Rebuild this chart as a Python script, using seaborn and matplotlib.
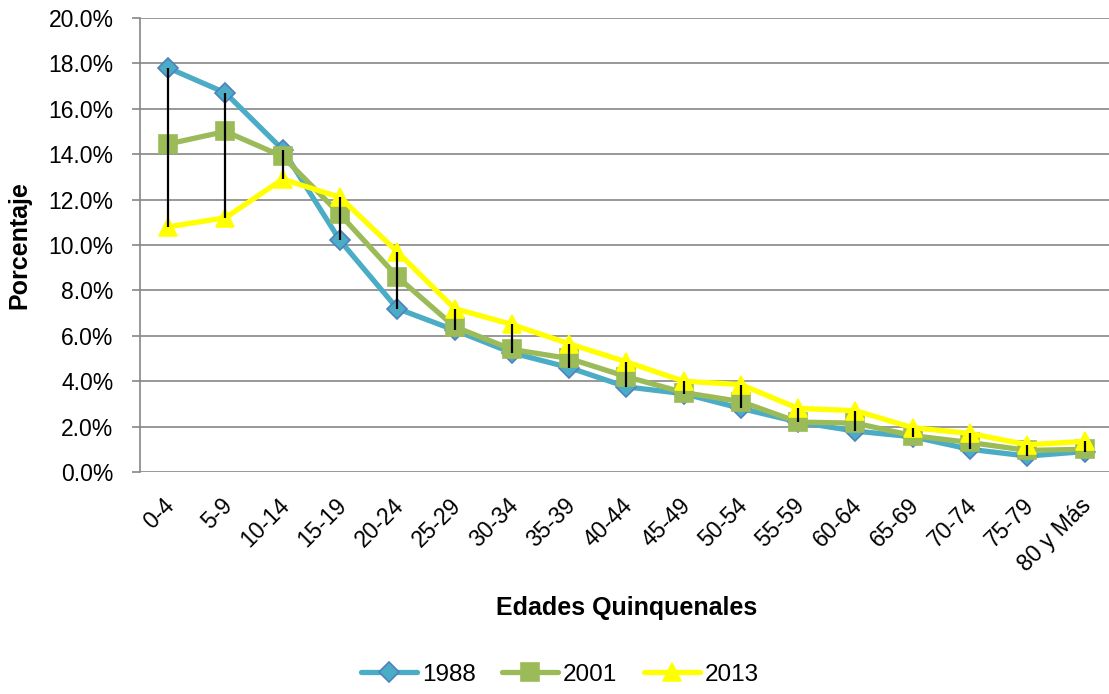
import numpy as np
import pandas as pd
import seaborn as sns
import matplotlib.pyplot as plt
from matplotlib.ticker import PercentFormatter
from matplotlib.transforms import ScaledTranslation

sns.set_style("white")
plt.rcParams['font.family'] = ['Liberation Sans', 'DejaVu Sans']
plt.rcParams['text.color'] = 'black'
plt.rcParams['axes.labelcolor'] = 'black'

# age groups and percentage of population per census
edades = ["0-4", "5-9", "10-14", "15-19", "20-24", "25-29", "30-34", "35-39",
          "40-44", "45-49", "50-54", "55-59", "60-64", "65-69", "70-74", "75-79",
          "80 y Más"]
p1988 = [17.8, 16.7, 14.2, 10.2, 7.2, 6.25, 5.25, 4.6, 3.75, 3.45, 2.8, 2.2,
         1.8, 1.55, 1.0, 0.7, 0.9]
p2001 = [14.45, 15.0, 13.9, 11.35, 8.6, 6.4, 5.4, 5.0, 4.2, 3.5, 3.1, 2.2,
         2.15, 1.6, 1.3, 0.95, 1.0]
p2013 = [10.8, 11.2, 12.9, 12.1, 9.7, 7.2, 6.5, 5.65, 4.85, 4.0, 3.85, 2.8,
         2.7, 1.95, 1.7, 1.2, 1.35]

data = pd.DataFrame({"Edad": edades, "1988": p1988, "2001": p2001, "2013": p2013})

fig = plt.figure(figsize=(11.09, 6.94), dpi=100)
ax = fig.add_axes([0.1258, 0.3199, 0.878, 0.6542])

# series: (column, line colour, marker, marker size, marker edge colour)
series = [("1988", "#4BACC6", "D", 10.5, "#4F81BD"),
          ("2001", "#9BBB59", "s", 13, "#9BBB59"),
          ("2013", "#FFFF00", "^", 13.5, "#FFFF00")]

x = np.arange(len(edades))
for col, color, mk, ms, mec in series:
    sns.lineplot(x=x, y=data[col], ax=ax, color=color, linewidth=3.8,
                 marker=mk, markersize=ms, markeredgecolor=mec,
                 markeredgewidth=1.2, label=col, zorder=3)

# high-low lines
vals = data[["1988", "2001", "2013"]]
ax.vlines(x, vals.min(axis=1), vals.max(axis=1), color="black",
          linewidth=1.6, zorder=5)

ax.set_xlim(-0.5, len(edades) - 0.5)
ax.set_ylim(0, 20)
ax.set_yticks(np.arange(0, 21, 2))
ax.yaxis.set_major_formatter(PercentFormatter(decimals=1))
ax.set_xticks(x)
ax.set_xticklabels(edades, rotation=45, ha="right", rotation_mode="anchor")
ax.tick_params(axis="x", length=0, labelsize=16.5, pad=16, labelcolor="black")
ax.tick_params(axis="y", length=5.8, width=1.2, color="#868686", labelsize=16.5,
               pad=13, left=True, labelcolor="black")
# nudge rotated labels a little to the left
shift = ScaledTranslation(-5 / 100, 0, fig.dpi_scale_trans)
for lab in ax.get_xticklabels():
    lab.set_transform(lab.get_transform() + shift)

ax.grid(axis="y", color="#868686", linewidth=1.2)
ax.set_axisbelow(True)
for s in ["top", "right", "bottom"]:
    ax.spines[s].set_visible(False)
ax.spines["left"].set_color("#868686")
ax.spines["left"].set_linewidth(1.2)

ax.set_xlabel("Edades Quinquenales", fontsize=18, fontweight="bold")
ax.xaxis.set_label_coords(0.5, -0.273)
ax.set_ylabel("Porcentaje", fontsize=18, fontweight="bold")
ax.yaxis.set_label_coords(-0.111, 0.5)

ax.get_legend().remove()
handles, labels = ax.get_legend_handles_labels()
fig.legend(handles, labels, loc="lower center", bbox_to_anchor=(0.505, -0.02),
           ncol=3, frameon=False, fontsize=17.5, handlelength=2.3,
           columnspacing=1.1, handletextpad=0.2)

fig.savefig("out.png", dpi=100)
